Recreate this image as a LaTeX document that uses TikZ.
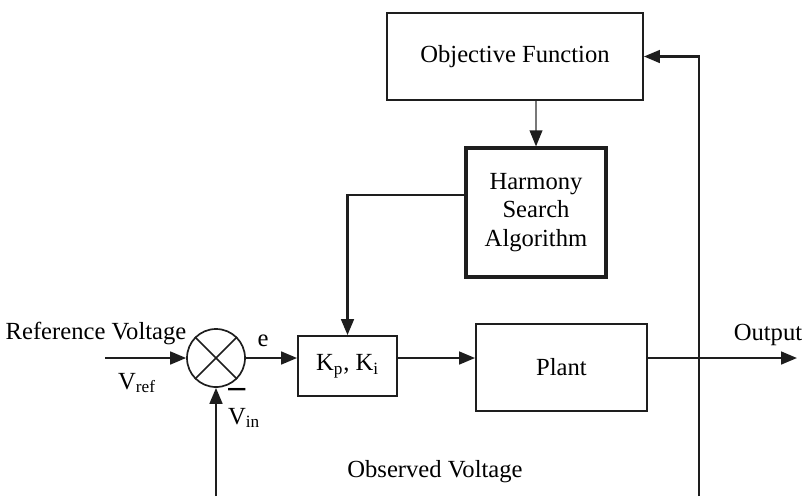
\documentclass[tikz,border=0pt]{standalone}
\usepackage{fontspec}
\setmainfont{Liberation Serif}
\usepackage{tikz}
\usetikzlibrary{arrows.meta, positioning, calc}
\definecolor{inkline}{RGB}{30, 30, 30}
\definecolor{thinline}{RGB}{120, 120, 120}
\tikzset{
  blocknode/.style={
    rectangle, draw=inkline, line width=1.3pt,
    text centered, font=\fontsize{17.5}{20}\selectfont
  },
  sumnode/.style={
    circle, draw=inkline, line width=1.2pt,
    minimum size=1.45cm, inner sep=0pt
  },
  lblnode/.style={font=\fontsize{17.5}{20}\selectfont, inner sep=0pt},
  sigarrow/.style={line width=1.6pt, color=inkline,
    -{Triangle[length=0.4cm, width=0.32cm]}},
  thinarrow/.style={line width=0.9pt, color=thinline,
    -{Triangle[length=0.4cm, width=0.32cm, color=inkline]}}
}
\begin{document}
\begin{tikzpicture}[x=0.025cm, y=-0.025cm]

  \useasboundingbox (0,0) rectangle (806,496);

  %% --- Optimiser loop ---
  \node[blocknode, minimum width=6.4cm, minimum height=2.175cm] (obj)
    at (515,56.5) {Objective Function};
  \node[blocknode, line width=2.3pt, minimum width=3.5cm, minimum height=3.225cm,
        align=center] (hsa)
    at (536,212.5) {Harmony\\Search\\Algorithm};

  %% --- Forward path ---
  \node[sumnode] (sum) at (216,358) {};
  \draw[line width=1.2pt, inkline] (sum.north west) -- (sum.south east);
  \draw[line width=1.2pt, inkline] (sum.north east) -- (sum.south west);

  \node[blocknode, minimum width=2.475cm, minimum height=1.5cm] (kpki)
    at (347.5,366) {K\textsubscript{p}, K\textsubscript{i}};
  \node[blocknode, minimum width=4.275cm, minimum height=2.175cm] (plant)
    at (561.5,367.5) {Plant};

  %% --- Free ends ---
  \coordinate (vin) at (105,358);
  \coordinate (vout) at (797,358);
  \coordinate (fbr) at (699,496);
  \coordinate (fbl) at (216,496);

  %% --- Labels ---
  \node[lblnode] (reflbl) at (96,333) {Reference Voltage};
  \node[lblnode] (vreflbl) at (137,383) {V\textsubscript{ref}};
  \node[lblnode] (elbl) at (263,341) {e};
  \node[lblnode, font=\fontsize{24}{24}\selectfont] (minuslbl) at (237,393) {\textbf{--}};
  \node[lblnode] (vinlbl) at (244,418) {V\textsubscript{in}};
  \node[lblnode] (outlbl) at (768,335) {Output};
  \node[lblnode] (obslbl) at (435,472) {Observed Voltage};

  %% --- Arrows ---
  \draw[thinarrow] (hsa.north |- obj.south) -- (hsa.north);
  \draw[sigarrow] ([yshift=0.44cm]hsa.west) -| (kpki.north);

  \draw[sigarrow] (vin) -- (sum.west);
  \draw[sigarrow] (sum.east) -- (kpki.west |- sum.east);
  \draw[sigarrow] (kpki.east |- sum.east) -- (plant.west |- sum.east);
  \draw[sigarrow] (plant.east |- sum.east) -- (vout);

  \draw[sigarrow] (fbr) |- (obj.east);
  \draw[sigarrow] (fbl) -- (sum.south);

\end{tikzpicture}
\end{document}
